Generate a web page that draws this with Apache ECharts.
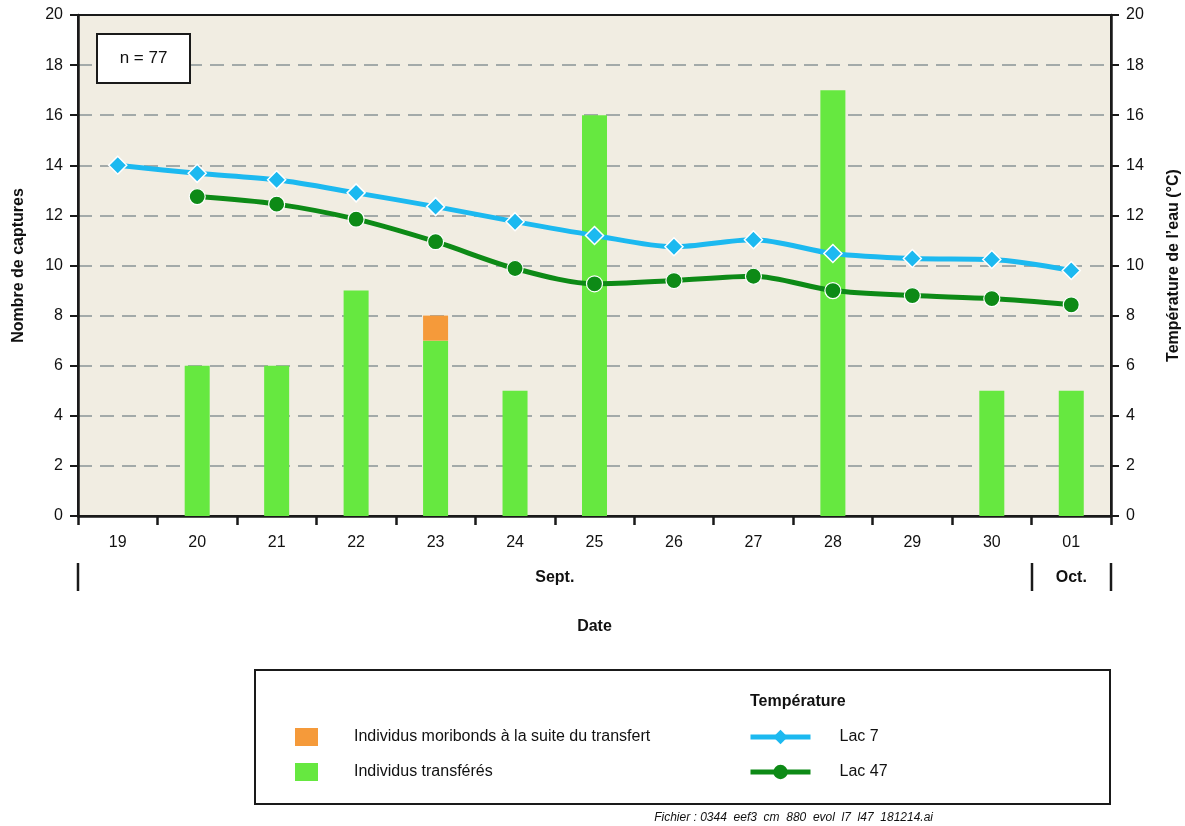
<!DOCTYPE html>
<html>
<head>
<meta charset="utf-8">
<script src="https://cdn.jsdelivr.net/npm/echarts@6/dist/echarts.min.js"></script>
<style>
  html, body { margin: 0; padding: 0; background: #ffffff; }
  #chart { width: 1185px; height: 826px; }
</style>
</head>
<body>
<div id="chart"></div>
<script>
// Dates (day of month) and month grouping
const days = ['19', '20', '21', '22', '23', '24', '25', '26', '27', '28', '29', '30', '01'];
const months = [
  { name: 'Sept.', from: 0, to: 11 },
  { name: 'Oct.', from: 12, to: 12 }
];

// Captures per day
const transferes = [0, 6, 6, 9, 7, 5, 16, 0, 0, 17, 0, 5, 5];
const moribonds  = [0, 0, 0, 0, 1, 0, 0, 0, 0, 0, 0, 0, 0];

// Water temperature (°C)
const lac7  = [14.0, 13.68, 13.42, 12.9, 12.35, 11.75, 11.2, 10.75, 11.03, 10.48, 10.28, 10.24, 9.8];
const lac47 = [null, 12.75, 12.45, 11.85, 10.95, 9.88, 9.27, 9.4, 9.57, 9.0, 8.8, 8.68, 8.43];

const yTicks = { min: 0, max: 20, interval: 2 };

const FONT = '"Liberation Sans", Arial, Helvetica, sans-serif';
const C_GREEN_BAR = '#66E840';
const C_ORANGE = '#F59A3A';
const C_BLUE = '#1CB9F0';
const C_DKGREEN = '#0D8A16';
const C_AXIS = '#1a1a1a';

const chart = echarts.init(document.getElementById('chart'), null, { renderer: 'canvas' });

const GRID = { left: 78, right: 74, top: 15, bottom: 310 };

const option = {
  animation: false,
  textStyle: { fontFamily: FONT },
  grid: {
    left: GRID.left, right: GRID.right, top: GRID.top, bottom: GRID.bottom,
    containLabel: false, outerBoundsMode: 'none',
    show: true, backgroundColor: '#F1EDE2', borderColor: C_AXIS, borderWidth: 2
  },
  xAxis: {
    type: 'category',
    data: days,
    boundaryGap: true,
    axisLine: { lineStyle: { color: C_AXIS, width: 2.5 } },
    axisTick: { show: true, interval: 0, length: 9, inside: false, lineStyle: { color: C_AXIS, width: 2.5 } },
    axisLabel: { interval: 0, margin: 19, color: '#111', fontSize: 16, fontFamily: FONT },
    splitLine: { show: false }
  },
  yAxis: [
    {
      type: 'value', position: 'left',
      min: yTicks.min, max: yTicks.max, interval: yTicks.interval,
      name: 'Nombre de captures', nameLocation: 'middle', nameRotate: 90, nameGap: 51,
      nameTextStyle: { fontSize: 16, fontWeight: 'bold', color: '#111', fontFamily: FONT },
      axisLine: { show: true, lineStyle: { color: C_AXIS, width: 2.5 } },
      axisTick: { show: true, length: 8, lineStyle: { color: C_AXIS, width: 2 } },
      axisLabel: { margin: 15, color: '#111', fontSize: 16, fontFamily: FONT },
      splitLine: {
        show: true, showMinLine: false, showMaxLine: false,
        lineStyle: { color: '#A3AAA9', width: 2, type: [14, 8] }
      }
    },
    {
      type: 'value', position: 'right',
      min: yTicks.min, max: yTicks.max, interval: yTicks.interval,
      name: 'Température de l\u2019eau (°C)', nameLocation: 'middle', nameRotate: 90, nameGap: 55,
      nameTextStyle: { fontSize: 16, fontWeight: 'bold', color: '#111', fontFamily: FONT },
      axisLine: { show: true, lineStyle: { color: C_AXIS, width: 2.5 } },
      axisTick: { show: true, length: 8, lineStyle: { color: C_AXIS, width: 2 } },
      axisLabel: { margin: 15, color: '#111', fontSize: 16, fontFamily: FONT },
      splitLine: { show: false }
    }
  ],
  legend: [
    {
      orient: 'vertical', left: 290, top: 723,
      itemWidth: 23, itemHeight: 18, itemGap: 17,
      icon: 'rect',
      selectedMode: false,
      data: ['Individus moribonds à la suite du transfert', 'Individus transférés'],
      textStyle: { fontSize: 16, color: '#111', fontFamily: FONT, padding: [0, 0, 0, 31] }
    },
    {
      orient: 'vertical', left: 743, top: 724,
      itemWidth: 60, itemHeight: 18, itemGap: 19,
      selectedMode: false,
      lineStyle: { width: 5 },
      itemStyle: { borderWidth: 0 },
      data: ['Lac 7', 'Lac 47'],
      textStyle: { fontSize: 16, color: '#111', fontFamily: FONT, padding: [0, 0, 0, 24] }
    }
  ],
  series: [
    {
      name: 'Individus transférés', type: 'bar', stack: 'captures',
      yAxisIndex: 0, barWidth: 25,
      itemStyle: { color: C_GREEN_BAR },
      data: transferes
    },
    {
      name: 'Individus moribonds à la suite du transfert', type: 'bar', stack: 'captures',
      yAxisIndex: 0, barWidth: 25,
      itemStyle: { color: C_ORANGE },
      data: moribonds
    },
    {
      name: 'Lac 7', type: 'line', yAxisIndex: 1, smooth: 0.3,
      symbol: 'diamond', symbolSize: 18, showAllSymbol: true,
      lineStyle: { color: C_BLUE, width: 5 },
      itemStyle: { color: C_BLUE, borderColor: '#ffffff', borderWidth: 1.5 },
      z: 5,
      data: lac7
    },
    {
      name: 'Lac 47', type: 'line', yAxisIndex: 1, smooth: 0.3,
      symbol: 'circle', symbolSize: 16, showAllSymbol: true, connectNulls: false,
      lineStyle: { color: C_DKGREEN, width: 5 },
      itemStyle: { color: C_DKGREEN, borderColor: '#ffffff', borderWidth: 1.2 },
      z: 5,
      data: lac47
    }
  ]
};

chart.setOption(option);

// Month row under the day labels, the sample-size box, the legend frame and the file note
function buildGraphics() {
  const half = (chart.convertToPixel({ xAxisIndex: 0 }, days[1]) - chart.convertToPixel({ xAxisIndex: 0 }, days[0])) / 2;
  const rowY = 578;
  const elements = [];
  const edges = new Set();
  months.forEach(m => {
    const x0 = chart.convertToPixel({ xAxisIndex: 0 }, days[m.from]) - half;
    const x1 = chart.convertToPixel({ xAxisIndex: 0 }, days[m.to]) + half;
    edges.add(Math.round(x0));
    edges.add(Math.round(x1));
    elements.push({
      type: 'text', x: (x0 + x1) / 2, y: rowY,
      style: { text: m.name, fill: '#111', font: 'bold 16px ' + FONT, align: 'center', verticalAlign: 'middle' }
    });
  });
  edges.forEach(x => {
    elements.push({
      type: 'line', shape: { x1: x, y1: 563, x2: x, y2: 591 },
      style: { stroke: C_AXIS, lineWidth: 2.5 }
    });
  });
  elements.push({
    type: 'text', x: (GRID.left + 1185 - GRID.right) / 2, y: 627,
    style: { text: 'Date', fill: '#111', font: 'bold 16px ' + FONT, align: 'center', verticalAlign: 'middle' }
  });
  // n box
  elements.push({
    type: 'rect', shape: { x: 97, y: 34, width: 93, height: 49 },
    style: { fill: '#ffffff', stroke: C_AXIS, lineWidth: 2 }, z: 10
  });
  elements.push({
    type: 'text', x: 143.5, y: 58.5, z: 11,
    style: { text: 'n = 77', fill: '#111', font: '17px ' + FONT, align: 'center', verticalAlign: 'middle' }
  });
  // legend frame
  elements.push({
    type: 'rect', shape: { x: 255, y: 670, width: 855, height: 134 }, z: -1,
    style: { fill: '#ffffff', stroke: C_AXIS, lineWidth: 2 }
  });
  elements.push({
    type: 'text', x: 750, y: 702,
    style: { text: 'Température', fill: '#111', font: 'bold 16px ' + FONT, align: 'left', verticalAlign: 'middle' }
  });
  // file note
  elements.push({
    type: 'text', x: 933, y: 818,
    style: { text: 'Fichier : 0344  eef3  cm  880  evol  l7  l47  181214.ai', fill: '#111', font: 'italic 12px ' + FONT, align: 'right', verticalAlign: 'middle' }
  });
  chart.setOption({ graphic: elements });
}
buildGraphics();
</script>
</body>
</html>
